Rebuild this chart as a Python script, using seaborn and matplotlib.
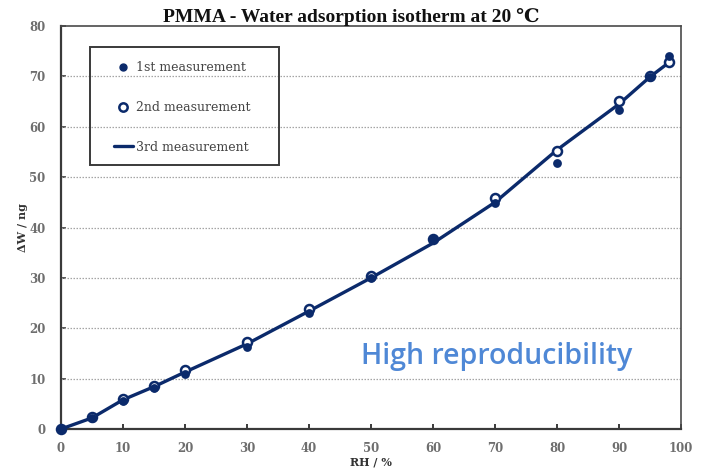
import matplotlib
matplotlib.use("Agg")
import matplotlib.pyplot as plt
import seaborn as sns
import pandas as pd
from matplotlib.lines import Line2D
from matplotlib.patches import Rectangle

# ---- data ----
rh = [0, 5, 10, 15, 20, 30, 40, 50, 60, 70, 80, 90, 95, 98]
first = [0, 2.2, 5.5, 8.2, 10.9, 16.3, 23.0, 29.9, 37.7, 44.9, 52.9, 63.3, 69.9, 74.0]
second = [0, 2.3, 6.0, 8.6, 11.7, 17.3, 23.8, 30.4, 37.8, 45.9, 55.2, 65.2, 70.1, 72.9]
third = [0, 2.2, 5.8, 8.4, 11.3, 16.9, 23.4, 30.0, 36.9, 45.0, 55.4, 64.5, 69.9, 72.7]
xticks = [0, 10, 20, 30, 40, 50, 60, 70, 80, 90, 100]
yticks = [0, 10, 20, 30, 40, 50, 60, 70, 80]
labels = ["1st measurement", "2nd measurement", "3rd measurement"]

df = pd.DataFrame({"rh": rh, "first": first, "second": second, "third": third})

NAVY = "#0B2A6B"

sns.set_style("white")
plt.rcParams["font.family"] = ["DejaVu Serif", "DejaVu Sans"]

fig = plt.figure(figsize=(7.04, 4.70), dpi=100)
ax = fig.add_axes([61 / 704, 1 - 429 / 470, 620 / 704, 403 / 470])

sns.lineplot(data=df, x="rh", y="third", ax=ax, color=NAVY, linewidth=2.4,
             zorder=3, clip_on=False)
sns.scatterplot(data=df, x="rh", y="second", ax=ax, facecolor="white",
                edgecolor=NAVY, s=42, linewidth=1.8, zorder=4, clip_on=False)
sns.scatterplot(data=df, x="rh", y="first", ax=ax, color=NAVY, s=40,
                edgecolor=NAVY, linewidth=0, zorder=5, clip_on=False)

ax.set_xlim(0, 100)
ax.set_ylim(0, 80)
ax.set_xticks(xticks)
ax.set_yticks(yticks)
ax.set_xticklabels([str(v) for v in xticks])
ax.set_yticklabels([str(v) for v in yticks])

for g in yticks[1:-1]:
    ax.axhline(g, color="#a5a5a5", linestyle=(0, (1.2, 1.2)), linewidth=0.9, zorder=1)

for s in ["left", "bottom"]:
    ax.spines[s].set_color("#3a3a3a")
    ax.spines[s].set_linewidth(1.6)
for s in ["top", "right"]:
    ax.spines[s].set_color("#4a4a4a")
    ax.spines[s].set_linewidth(1.2)

ax.tick_params(axis="x", direction="in", length=3.5, width=1.4, color="#3a3a3a",
               pad=9, labelsize=8.5, labelcolor="#6e6e6e", bottom=True)
ax.tick_params(axis="y", direction="in", length=3.5, width=1.2, color="#3a3a3a",
               pad=11, labelsize=8.5, labelcolor="#6e6e6e", left=True)
for t in ax.get_xticklabels() + ax.get_yticklabels():
    t.set_fontweight("bold")

ax.set_xlabel("RH / %", fontsize=8, fontweight="bold", color="#333333")
ax.set_ylabel("ΔW / ng", fontsize=8, fontweight="bold", color="#333333")
ax.xaxis.set_label_coords(0.5, -0.068)
ax.yaxis.set_label_coords(-0.054, 0.5)

fig.text(351 / 704, 1 - 17 / 470, "PMMA - Water adsorption isotherm at 20 \u2103",
         ha="center", va="center", fontsize=14, fontweight="bold",
         family=["Liberation Serif", "DejaVu Serif"], color="#111111")

# legend
handles = [
    Line2D([], [], linestyle="none", marker="o", markersize=5.0, color=NAVY),
    Line2D([], [], linestyle="none", marker="o", markersize=6.0, markerfacecolor="white",
           markeredgecolor=NAVY, markeredgewidth=1.8),
    Line2D([], [], color=NAVY, linewidth=2.4),
]
leg = ax.legend(handles, labels, loc="upper left",
                bbox_to_anchor=((114 - 61) / 620, (429 - 61) / 403),
                frameon=False, borderpad=0, borderaxespad=0, handlelength=1.5,
                handletextpad=0.25, labelspacing=2.15, fontsize=9)
for t in leg.get_texts():
    t.set_color("#444444")
ax.add_patch(Rectangle(((90 - 61) / 620, (429 - 165) / 403), 189 / 620, 118 / 403,
                       transform=ax.transAxes, fill=True, facecolor="none",
                       edgecolor="#3a3a3a", linewidth=1.4, zorder=6))

ax.text((361 - 61) / 620, (429 - 364) / 403, "High reproducibility",
        transform=ax.transAxes, ha="left", va="baseline", fontsize=20.5,
        family=["Open Sans", "DejaVu Sans"], fontweight="semibold", color="#4F88D6")

fig.savefig("out.png", dpi=100, facecolor="white")
